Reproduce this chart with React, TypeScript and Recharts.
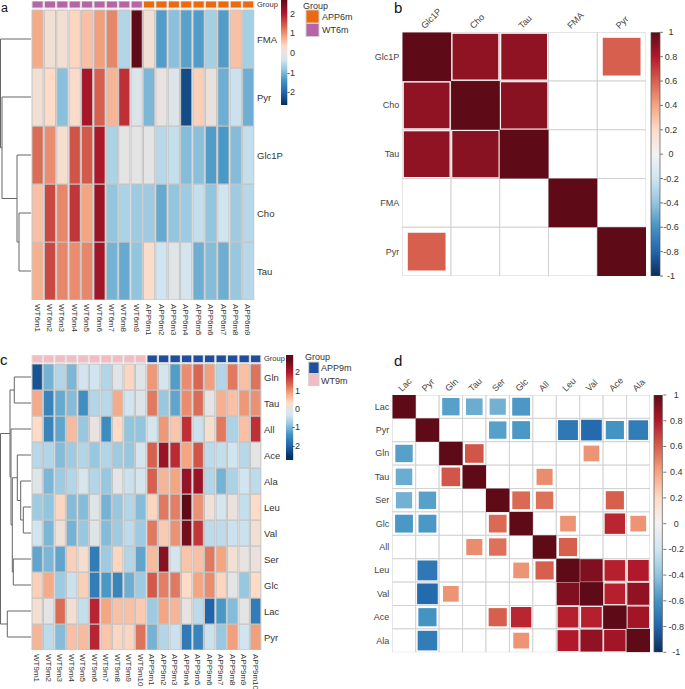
import React from 'react';
import { BarChart, Bar, Cell, XAxis, YAxis, ScatterChart, Scatter, ZAxis } from 'recharts';

const FONT = '"Liberation Sans", Arial, Helvetica, sans-serif';

// ---------------- Panel a data ----------------
const samplesA = ['WT6m1', 'WT6m2', 'WT6m3', 'WT6m4', 'WT6m5', 'WT6m6', 'WT6m7', 'WT6m8', 'WT6m9',
  'APP6m1', 'APP6m2', 'APP6m3', 'APP6m4', 'APP6m5', 'APP6m6', 'APP6m7', 'APP6m8', 'APP6m9'];
const rowsA = ['FMA', 'Pyr', 'Glc1P', 'Cho', 'Tau'];
const aFMA = [0.8, 0.2, 0.2, 0.4, 0.6, 0.9, 1.1, -0.6, 2.7, 0.2, -1.3, -0.9, -1.25, -1.3, -0.7, -1.3, 0.6, -0.7];
const aPyr = [0.2, 0.35, -0.9, 0.3, 2.1, 1.4, 0.7, 1.8, -0.15, -1.0, 0.05, -0.15, -2.3, 0.45, 0.1, -1.1, -0.4, -1.1];
const aGlc1P = [1.3, 1.05, 0.25, 1.5, 1.45, 2.05, -0.65, 0, 0, 0, -0.55, -0.45, -0.95, -0.9, -1.3, -1.35, -0.95, -0.45];
const aCho = [0.6, 1.6, 1.1, 1.75, 0.85, 2.2, -0.85, -0.65, -0.75, -0.75, -1.15, -0.85, -0.75, -0.45, -0.85, -0.35, -0.75, -0.55];
const aTau = [0.75, 1.6, 1.1, 1.05, 1.1, 2.15, -1.05, -1.15, -0.85, 0.3, -0.35, -0.1, -0.25, -1.1, -0.95, -1.1, -0.8, -0.55];
// dendrogram merges: [childA, childB, height]; leaves 0..4
const dendroA: [number, number, number][] = [[3, 4, 12], [2, 5, 14], [1, 6, 29], [0, 7, 30.5]];

// ---------------- Panel c data ----------------
const samplesC = ['WT9m1', 'WT9m2', 'WT9m3', 'WT9m4', 'WT9m5', 'WT9m6', 'WT9m7', 'WT9m8', 'WT9m9', 'WT9m10',
  'APP9m1', 'APP9m2', 'APP9m3', 'APP9m4', 'APP9m5', 'APP9m6', 'APP9m7', 'APP9m8', 'APP9m9', 'APP9m10'];
const rowsC = ['Gln', 'Tau', 'All', 'Ace', 'Ala', 'Leu', 'Val', 'Ser', 'Glc', 'Lac', 'Pyr'];
const cGln = [-2.2, -1.05, -0.6, -1.0, -0.35, -0.35, -0.6, -0.05, 0.4, -0.1, 0.95, -0.3, -1.3, 1.05, 1.35, 0.9, -0.6, 1.2, 0.6, 1.25];
const cTau = [0.8, -1.6, -1.15, -0.95, -1.45, -0.6, -0.55, 0.8, -0.35, -0.15, 1.2, -0.8, -1.2, 1.05, 1.3, 0, 0.75, 0.6, 0.95, 1.0];
const cAll = [0.35, -1.6, -1.2, 0.65, -0.8, 0.05, -1.5, 0.35, -0.85, -0.85, -0.3, 0.95, 0.55, 1.8, -0.4, 0.25, 1.2, -0.65, 0.6, 1.8];
const cAce = [-0.55, -0.6, -0.95, -0.75, -0.6, -0.8, -0.6, -0.75, -0.8, -0.3, 1.4, 2.2, 1.85, 0.85, 1.5, -0.5, -0.45, -0.35, -0.55, 0];
const cAla = [-0.1, -1.0, -0.75, -0.6, -0.3, -0.6, -0.8, 0, -0.4, -0.3, 1.4, 0.7, 0.85, 2.25, 2.2, -0.6, -1.05, -0.65, -0.35, -0.5];
const cLeu = [-0.75, -0.85, 0.4, -0.95, -0.95, -0.1, -1.05, -0.8, -0.6, -0.95, 0.4, 1.2, 1.15, 2.7, 1.0, 0.15, -0.3, 0.1, -0.45, 0.35];
const cVal = [-0.35, -1.0, 0.15, -1.05, -0.8, -0.1, -0.95, -0.75, -0.5, -0.75, 1.2, 0.5, 1.0, 2.5, 1.75, -0.5, -0.5, -0.4, -0.4, 0.2];
const cSer = [-1.2, -1.0, -1.2, 0.45, 0.25, -1.7, -0.75, 0.4, -0.6, -1.2, 0.65, 2.35, -0.3, 0.55, 0.6, 1.2, 0.85, 0.2, 0.05, 0.1];
const cGlc = [0.45, 0.8, -0.75, -0.4, 0.45, -1.7, -1.35, -1.6, -1.1, -0.75, 1.45, 1.15, 1.2, 0.35, 0.85, 1.05, 0.4, 0, -0.8, 0.35];
const cLac = [0.2, 0, 1.3, 0.2, -0.45, 1.9, 0.85, 0.6, 0.6, 0.5, -0.75, 0.85, 0.7, 0.05, -0.5, -2.0, -1.35, -0.95, 0, -1.7];
const cPyr = [0.7, -0.5, -0.95, 0.6, 0.65, 1.9, 0.55, 0.4, 0.4, 1.25, -1.05, -0.6, -0.4, -1.75, -1.6, -0.4, -0.8, 0.9, -0.35, 0.9];
const dendroC: [number, number, number][] = [
  [0, 1, 16.7], [5, 6, 7.7], [4, 12, 10.3], [3, 13, 13.7], [7, 8, 17.7],
  [14, 15, 18.7], [2, 16, 20], [11, 17, 21], [9, 10, 23.7], [18, 19, 30.5],
];

// ---------------- Panel b data ----------------
const namesB = ['Glc1P', 'Cho', 'Tau', 'FMA', 'Pyr'];
const bGlc1P = [1, 0.88, 0.88, null, 0.6];
const bCho = [0.88, 1, 0.9, null, null];
const bTau = [0.88, 0.9, 1, null, null];
const bFMA = [null, null, null, 1, null];
const bPyr = [0.6, null, null, null, 1];

// ---------------- Panel d data ----------------
const namesD = ['Lac', 'Pyr', 'Gln', 'Tau', 'Ser', 'Glc', 'All', 'Leu', 'Val', 'Ace', 'Ala'];
const dLac = [1, null, -0.55, -0.5, -0.48, -0.58, null, null, null, null, null];
const dPyr = [null, 1, null, null, -0.55, -0.58, null, -0.72, -0.78, -0.6, -0.7];
const dGln = [-0.55, null, 1, 0.63, null, null, null, null, 0.45, null, null];
const dTau = [-0.5, null, 0.63, 1, null, null, 0.47, null, null, null, null];
const dSer = [-0.48, -0.55, null, null, 1, 0.57, 0.55, null, null, 0.6, null];
const dGlc = [-0.58, -0.58, null, null, 0.57, 1, null, 0.45, null, 0.76, 0.45];
const dAll = [null, null, null, 0.47, 0.55, null, 1, 0.6, null, null, null];
const dLeu = [null, -0.72, null, null, null, 0.45, 0.6, 1, 0.92, 0.78, 0.8];
const dVal = [null, -0.78, 0.45, null, null, null, null, 0.92, 1, 0.78, 0.88];
const dAce = [null, -0.6, null, null, 0.6, 0.76, null, 0.78, 0.78, 1, 0.84];
const dAla = [null, -0.7, null, null, null, 0.45, null, 0.8, 0.88, 0.84, 1];

const heatTicks = [-2, -1, 0, 1, 2];
const corrTicks = [-1, -0.8, -0.6, -0.4, -0.2, 0, 0.2, 0.4, 0.6, 0.8, 1];

// ---------------- colours ----------------
type Stop = [number, string];
const heatStops: Stop[] = [
  [-2.6, '#053061'], [-2.0, '#2166AC'], [-1.4, '#4393C3'], [-0.85, '#92C5DE'], [-0.35, '#D1E5F0'],
  [0, '#E4E4E4'], [0.35, '#FDDBC7'], [0.85, '#F4A582'], [1.4, '#D6604D'], [2.0, '#B2182B'], [2.7, '#5E0B17'],
];
const corrStops: Stop[] = [
  [-1, '#0B2D5B'], [-0.8, '#2166AC'], [-0.6, '#4393C3'], [-0.4, '#92C5DE'], [-0.2, '#D1E5F0'], [0, '#F2F2F2'],
  [0.2, '#FDDBC7'], [0.4, '#F4A582'], [0.6, '#D6604D'], [0.8, '#B2182B'], [1, '#5E0B17'],
];
const groupColors: Record<string, string> = {
  WT6m: '#B764A6', APP6m: '#EC6A0E', WT9m: '#F3BCC3', APP9m: '#1F4E9D',
};

function hexRgb(h: string) {
  return [parseInt(h.slice(1, 3), 16), parseInt(h.slice(3, 5), 16), parseInt(h.slice(5, 7), 16)];
}
function lerpColor(stops: Stop[], v: number): string {
  if (v <= stops[0][0]) return stops[0][1];
  if (v >= stops[stops.length - 1][0]) return stops[stops.length - 1][1];
  for (let i = 0; i < stops.length - 1; i++) {
    const [v0, c0] = stops[i];
    const [v1, c1] = stops[i + 1];
    if (v >= v0 && v <= v1) {
      const t = (v - v0) / (v1 - v0);
      const a = hexRgb(c0);
      const b = hexRgb(c1);
      const m = a.map((x, k) => Math.round(x + (b[k] - x) * t));
      return `rgb(${m[0]},${m[1]},${m[2]})`;
    }
  }
  return '#ffffff';
}
function gradStops(stops: Stop[], lo: number, hi: number) {
  const out = [{ off: 0, c: lerpColor(stops, hi) }];
  stops.filter((s) => s[0] < hi && s[0] > lo).sort((a, b) => b[0] - a[0])
    .forEach((s) => out.push({ off: (hi - s[0]) / (hi - lo), c: s[1] }));
  out.push({ off: 1, c: lerpColor(stops, lo) });
  return out;
}

// ---------------- Heatmap ----------------
type Margin = { top: number; right: number; bottom: number; left: number };
function Heatmap(p: {
  samples: string[]; rowNames: string[]; values: number[][]; groupOf: (s: string) => string;
  width: number; height: number; margin: Margin; yW: number; xH: number; gap: number; grp: number;
}) {
  const { samples, rowNames, values, groupOf, width, height, margin, yW, xH, gap, grp } = p;
  const n = rowNames.length;
  const plotW = width - margin.left - margin.right - yW;
  const band = plotW / samples.length;
  const data = samples.map((s) => {
    const d: Record<string, any> = { name: s, gap, grp };
    rowNames.forEach((_, k) => { d['r' + k] = 1; });
    return d;
  });
  const total = n + gap + grp;
  const ticks = rowNames.map((_, k) => n - k - 0.5).concat([n + gap + grp / 2]);
  const rowTick = (props: any) => {
    const { x, y, payload } = props;
    const v = payload.value;
    const isGroup = v > n;
    const label = isGroup ? 'Group' : rowNames[Math.round(n - 0.5 - v)];
    return (
      <text x={x} y={y} textAnchor="start" dominantBaseline="central" fontSize={isGroup ? 7.5 : 9.5} fill="#333" fontFamily={FONT}>
        {label}
      </text>
    );
  };
  const colTick = (props: any) => {
    const { x, y, payload } = props;
    return (
      <text x={x} y={y} transform={`rotate(90 ${x} ${y})`} textAnchor="start" dominantBaseline="central"
        fontSize={8} fill="#333" fontFamily={FONT}>
        {payload.value}
      </text>
    );
  };
  return (
    <BarChart width={width} height={height} data={data} margin={margin} barCategoryGap={0} barGap={0}>
      <XAxis dataKey="name" type="category" interval={0} height={xH} tickSize={0} tickMargin={4}
        axisLine={false} tickLine={false} tick={colTick} />
      <YAxis type="number" orientation="right" domain={[0, total]} allowDataOverflow ticks={ticks} interval={0}
        width={yW} tickSize={0} tickMargin={3} axisLine={false} tickLine={false} tick={rowTick} />
      {rowNames.map((_, i) => {
        const k = n - 1 - i;
        return (
          <Bar key={'r' + k} dataKey={'r' + k} stackId="s" barSize={band} isAnimationActive={false}
            stroke="#c4c4c4" strokeWidth={1}>
            {samples.map((_, j) => <Cell key={j} fill={lerpColor(heatStops, values[k][j])} />)}
          </Bar>
        );
      })}
      <Bar dataKey="gap" stackId="s" barSize={band} fill="none" stroke="none" isAnimationActive={false} />
      <Bar dataKey="grp" stackId="s" barSize={band} isAnimationActive={false} stroke="#e2e2e2" strokeWidth={1}>
        {samples.map((s, j) => <Cell key={j} fill={groupColors[groupOf(s)]} />)}
      </Bar>
    </BarChart>
  );
}

// ---------------- Dendrogram ----------------
function Dendro(p: { n: number; merges: [number, number, number][]; hmax: number; width: number; height: number }) {
  const { n, merges, hmax, width, height } = p;
  const pos: number[] = [];
  const hts: number[] = [];
  for (let i = 0; i < n; i++) { pos.push(i + 0.5); hts.push(0); }
  merges.forEach(([a, b, h]) => { pos.push((pos[a] + pos[b]) / 2); hts.push(h); });
  return (
    <ScatterChart width={width} height={height} margin={{ top: 0, right: 0, bottom: 0, left: 0 }}>
      <XAxis type="number" dataKey="x" domain={[0, hmax]} allowDataOverflow reversed hide />
      <YAxis type="number" dataKey="y" domain={[0, n]} allowDataOverflow reversed hide />
      {merges.map(([a, b, h], k) => (
        <Scatter key={k} isAnimationActive={false}
          data={[{ x: hts[a], y: pos[a] }, { x: h, y: pos[a] }, { x: h, y: pos[b] }, { x: hts[b], y: pos[b] }]}
          line={{ stroke: '#666', strokeWidth: 1 }} lineJointType="linear" shape={() => <g />} />
      ))}
    </ScatterChart>
  );
}

// ---------------- Colour bar ----------------
function ColorBar(p: {
  id: string; lo: number; hi: number; stops: Stop[]; ticks: number[]; width: number; height: number;
  margin: Margin; yW: number; tickSize: number; tickMargin: number; anchor: 'start' | 'middle' | 'end';
  border?: string; fontSize: number;
}) {
  const { id, lo, hi, stops, ticks, width, height, margin, yW, tickSize, tickMargin, anchor, border, fontSize } = p;
  const plotW = width - margin.left - margin.right - yW;
  const gs = gradStops(stops, lo, hi);
  const data = [{ name: 'bar', v: [lo, hi] }];
  const fmt = (v: number) => (Math.abs(v) < 1e-9 ? '0' : String(+v.toFixed(1)));
  const tick = (props: any) => (
    <text x={props.x} y={props.y} textAnchor={anchor} dominantBaseline="central" fontSize={fontSize}
      fill="#333" fontFamily={FONT}>
      {fmt(props.payload.value)}
    </text>
  );
  return (
    <BarChart width={width} height={height} data={data} margin={margin} barCategoryGap={0}>
      <defs>
        <linearGradient id={id} x1="0" y1="0" x2="0" y2="1">
          {gs.map((s, i) => <stop key={i} offset={s.off} stopColor={s.c} />)}
        </linearGradient>
      </defs>
      <XAxis dataKey="name" hide />
      <YAxis type="number" orientation="right" domain={[lo, hi]} allowDataOverflow ticks={ticks} interval={0}
        width={yW} tickSize={tickSize} tickMargin={tickMargin} axisLine={false}
        tickLine={tickSize > 0 ? { stroke: '#777' } : false} tick={tick} />
      <Bar dataKey="v" barSize={plotW} fill={`url(#${id})`} stroke={border || 'none'} strokeWidth={0.7}
        isAnimationActive={false} />
    </BarChart>
  );
}

// ---------------- Correlation plot ----------------
function Corr(p: {
  names: string[]; matrix: (number | null)[][]; width: number; height: number; margin: Margin;
  yW: number; xH: number; fontSize: number;
}) {
  const { names, matrix, width, height, margin, yW, xH, fontSize } = p;
  const n = names.length;
  const plotW = width - margin.left - margin.right - yW;
  const cell = plotW / n;
  const grid: any[] = [];
  const sig: any[] = [];
  names.forEach((_, i) => names.forEach((_, j) => {
    grid.push({ x: j + 0.5, y: i + 0.5 });
    const r = matrix[i][j];
    if (r !== null && r !== undefined) sig.push({ x: j + 0.5, y: i + 0.5, z: Math.abs(r), r });
  }));
  const ticks = names.map((_, i) => i + 0.5);
  const colTick = (props: any) => {
    const { x, y, payload } = props;
    const label = names[Math.round(payload.value - 0.5)];
    const tx = x - 2;
    return (
      <text x={tx} y={y} transform={`rotate(-45 ${tx} ${y})`} textAnchor="start" fontSize={fontSize}
        fill="#444" fontFamily={FONT}>
        {label}
      </text>
    );
  };
  const rowTick = (props: any) => {
    const { x, y, payload } = props;
    return (
      <text x={x} y={y} textAnchor="end" dominantBaseline="central" fontSize={fontSize} fill="#444" fontFamily={FONT}>
        {names[Math.round(payload.value - 0.5)]}
      </text>
    );
  };
  const gridShape = (props: any) => (
    <rect x={props.cx - cell / 2} y={props.cy - cell / 2} width={cell} height={cell} fill="#ffffff"
      stroke="#d2d2d2" strokeWidth={1} />
  );
  const sqShape = (props: any) => {
    const size = props.size !== undefined ? props.size : Math.PI * Math.pow((props.width || 0) / 2, 2);
    const s = Math.sqrt(Math.max(size, 0));
    return <rect x={props.cx - s / 2} y={props.cy - s / 2} width={s} height={s} fill={lerpColor(corrStops, props.payload.r)} />;
  };
  return (
    <ScatterChart width={width} height={height} margin={margin}>
      <XAxis type="number" dataKey="x" orientation="top" domain={[0, n]} allowDataOverflow ticks={ticks} interval={0}
        height={xH} tickSize={0} tickMargin={3} axisLine={false} tickLine={false} tick={colTick} />
      <YAxis type="number" dataKey="y" domain={[0, n]} reversed allowDataOverflow ticks={ticks} interval={0}
        width={yW} tickSize={0} tickMargin={3} axisLine={false} tickLine={false} tick={rowTick} />
      <ZAxis type="number" dataKey="z" domain={[0, 1]} range={[0, cell * cell]} />
      <Scatter data={grid} shape={gridShape} isAnimationActive={false} />
      <Scatter data={sig} shape={sqShape} isAnimationActive={false} />
    </ScatterChart>
  );
}

const abs = (left: number, top: number): React.CSSProperties => ({ position: 'absolute', left, top });

export default function App() {
  const valuesA = [aFMA, aPyr, aGlc1P, aCho, aTau];
  const valuesC = [cGln, cTau, cAll, cAce, cAla, cLeu, cVal, cSer, cGlc, cLac, cPyr];
  const matB = [bGlc1P, bCho, bTau, bFMA, bPyr];
  const matD = [dLac, dPyr, dGln, dTau, dSer, dGlc, dAll, dLeu, dVal, dAce, dAla];
  const grpA = (s: string) => (s.startsWith('WT') ? 'WT6m' : 'APP6m');
  const grpC = (s: string) => (s.startsWith('WT') ? 'WT9m' : 'APP9m');
  return (
    <div style={{ position: 'absolute', left: 0, top: 0, width: 685, height: 689, overflow: 'hidden', background: '#fff', fontFamily: FONT }}>
      <div style={abs(0, 0)}>
        <Heatmap samples={samplesA} rowNames={rowsA} values={valuesA} groupOf={grpA} width={300} height={360}
          margin={{ top: 1, right: 6, bottom: 10, left: 31 }} yW={40} xH={50} gap={2 / 58} grp={7 / 58} />
      </div>
      <div style={abs(0, 10)}>
        <Dendro n={5} merges={dendroA} hmax={31} width={31} height={290} />
      </div>
      <div style={abs(276, 0)}>
        <ColorBar id="gradA" lo={-2.64} hi={2.7} stops={heatStops} ticks={heatTicks} width={39} height={115}
          margin={{ top: 0, right: 0, bottom: 10, left: 5 }} yW={27} tickSize={0} tickMargin={7} anchor="end" fontSize={9} />
      </div>

      <div style={abs(0, 354)}>
        <Heatmap samples={samplesC} rowNames={rowsC} values={valuesC} groupOf={grpC} width={307} height={336}
          margin={{ top: 1, right: 6, bottom: 5, left: 31 }} yW={40} xH={35} gap={1.3 / 26} grp={7.7 / 26} />
      </div>
      <div style={abs(0, 364)}>
        <Dendro n={11} merges={dendroC} hmax={31} width={31} height={286} />
      </div>
      <div style={abs(281, 355)}>
        <ColorBar id="gradC" lo={-2.78} hi={2.94} stops={heatStops} ticks={heatTicks} width={41} height={115}
          margin={{ top: 0, right: 0, bottom: 10, left: 5 }} yW={28} tickSize={0} tickMargin={6} anchor="end" fontSize={9} />
      </div>

      <div style={abs(340, 0)}>
        <Corr names={namesB} matrix={matB} width={308} height={286}
          margin={{ top: 2.3, right: 2, bottom: 10, left: 2.3 }} yW={60} xH={30} fontSize={9} />
      </div>
      <div style={abs(645, 0)}>
        <ColorBar id="gradB" lo={-1} hi={1} stops={corrStops} ticks={corrTicks} width={50} height={286}
          margin={{ top: 32.3, right: 0, bottom: 10, left: 5 }} yW={35} tickSize={3} tickMargin={8} anchor="middle"
          border="#555" fontSize={9} />
      </div>

      <div style={abs(330, 360)}>
        <Corr names={namesD} matrix={matD} width={322} height={302.3}
          margin={{ top: 5, right: 2, bottom: 10, left: 2.3 }} yW={60} xH={30} fontSize={9} />
      </div>
      <div style={abs(649, 380)}>
        <ColorBar id="gradD" lo={-1} hi={1} stops={corrStops} ticks={corrTicks} width={49.3} height={282.3}
          margin={{ top: 15, right: 0, bottom: 10, left: 5 }} yW={35} tickSize={3} tickMargin={10} anchor="middle"
          border="#555" fontSize={9} />
      </div>

      <svg width={685} height={689} style={{ position: 'absolute', left: 0, top: 0, pointerEvents: 'none' }}>
        <g fontFamily={FONT} fill="#111">
          <text x={1} y={11.5} fontSize={12.5}>a</text>
          <text x={394} y={12.5} fontSize={15}>b</text>
          <text x={0} y={365} fontSize={15}>c</text>
          <text x={394} y={366} fontSize={15}>d</text>
        </g>
        <g fontFamily={FONT} fontSize={9} fill="#333">
          <text x={303} y={8.5}>Group</text>
          <rect x={306} y={10} width={13} height={13} fill={groupColors.APP6m} stroke="#d0d0d0" />
          <rect x={306} y={23.5} width={13} height={13} fill={groupColors.WT6m} stroke="#d0d0d0" />
          <text x={322} y={19.5}>APP6m</text>
          <text x={322} y={33}>WT6m</text>
          <text x={305} y={360}>Group</text>
          <rect x={308.7} y={362} width={10.3} height={11.5} fill={groupColors.APP9m} stroke="#d0d0d0" />
          <rect x={308.7} y={374} width={10.3} height={11.5} fill={groupColors.WT9m} stroke="#d0d0d0" />
          <text x={321} y={371}>APP9m</text>
          <text x={321} y={383.5}>WT9m</text>
        </g>
      </svg>
    </div>
  );
}
